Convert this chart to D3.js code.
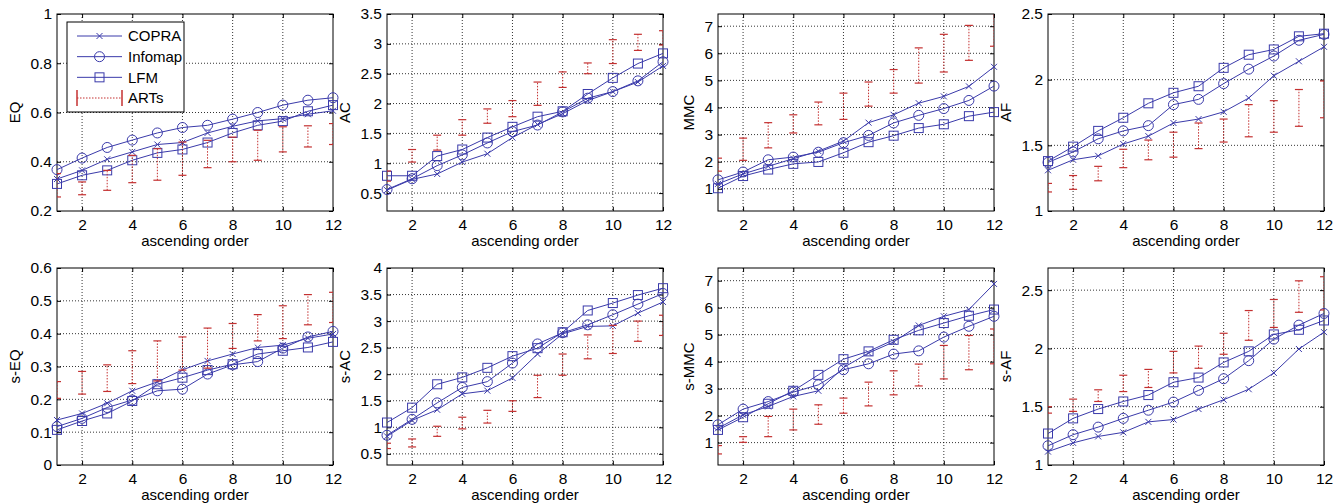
<!DOCTYPE html>
<html>
<head>
<meta charset="utf-8">
<script src="https://cdn.jsdelivr.net/npm/d3@7"></script>
<style>
  body { margin: 0; background: #fff; }
  text { font-family: Arial, "Liberation Sans", Helvetica, sans-serif; }
</style>
</head>
<body>
<svg id="chart" width="1341" height="504"></svg>
<script>
// DATA
const order = [1, 2, 3, 4, 5, 6, 7, 8, 9, 10, 11, 12];
const xTicks = [2, 4, 6, 8, 10, 12];

// EQ
const eqCopra = [0.33, 0.365, 0.41, 0.44, 0.47, 0.478, 0.517, 0.544, 0.566, 0.575, 0.593, 0.607];
const eqInfomap = [0.368, 0.415, 0.458, 0.488, 0.517, 0.539, 0.548, 0.573, 0.6, 0.63, 0.65, 0.66];
const eqLfm = [0.31, 0.345, 0.365, 0.406, 0.436, 0.45, 0.478, 0.517, 0.548, 0.565, 0.605, 0.63];
const eqArtsLow = [0.257, 0.266, 0.284, 0.315, 0.325, 0.345, 0.376, 0.4, 0.406, 0.44, 0.46, 0.47];
const eqArtsHigh = [0.352, 0.318, 0.365, 0.426, 0.453, 0.48, 0.487, 0.5, 0.528, 0.542, 0.546, 0.555];
const eqTicks = [0.2, 0.4, 0.6, 0.8, 1];

// AC
const acCopra = [0.55, 0.73, 0.82, 1.02, 1.16, 1.43, 1.65, 1.83, 2.05, 2.2, 2.36, 2.63];
const acInfomap = [0.56, 0.74, 0.96, 1.14, 1.34, 1.53, 1.64, 1.86, 2.09, 2.2, 2.38, 2.7];
const acLfm = [0.79, 0.79, 1.12, 1.23, 1.43, 1.61, 1.78, 1.87, 2.16, 2.43, 2.67, 2.84];
const acArtsLow = [0.7, 1.02, 1.22, 1.47, 1.67, 1.78, 1.97, 2.27, 2.5, 2.67, 2.89, 2.98];
const acArtsHigh = [0.87, 1.23, 1.47, 1.73, 1.91, 2.05, 2.36, 2.53, 2.68, 3.07, 3.16, 3.22];
const acTicks = [0.5, 1, 1.5, 2, 2.5, 3, 3.5];

// MMC
const mmcCopra = [1.18, 1.55, 1.83, 2.11, 2.39, 2.76, 3.44, 3.73, 4.16, 4.41, 4.78, 5.5];
const mmcInfomap = [1.33, 1.62, 2.07, 2.17, 2.35, 2.7, 2.97, 3.43, 3.71, 3.96, 4.26, 4.79];
const mmcLfm = [1.02, 1.47, 1.71, 1.92, 1.99, 2.33, 2.72, 2.96, 3.24, 3.38, 3.68, 3.83];
const mmcArtsLow = [1.65, 2.05, 2.51, 3.06, 3.36, 3.56, 4.05, 4.53, 4.9, 5.31, 5.74, 6.26];
const mmcArtsHigh = [2.13, 2.87, 3.44, 3.73, 4.2, 4.53, 4.94, 5.4, 6.2, 6.7, 7.03, 7.6];
const mmcTicks = [1, 2, 3, 4, 5, 6, 7];

// AF
const afCopra = [1.31, 1.39, 1.42, 1.51, 1.57, 1.67, 1.7, 1.755, 1.86, 2.03, 2.14, 2.25];
const afInfomap = [1.37, 1.45, 1.55, 1.61, 1.65, 1.81, 1.85, 1.97, 2.08, 2.18, 2.3, 2.345];
const afLfm = [1.38, 1.49, 1.61, 1.71, 1.82, 1.9, 1.95, 2.09, 2.19, 2.23, 2.33, 2.35];
const afArtsLow = [1.145, 1.165, 1.23, 1.33, 1.39, 1.41, 1.475, 1.525, 1.565, 1.6, 1.645, 1.71];
const afArtsHigh = [1.21, 1.27, 1.34, 1.47, 1.54, 1.6, 1.67, 1.7, 1.81, 1.84, 1.925, 1.99];
const afTicks = [1, 1.5, 2, 2.5];

// s-EQ
const sEqCopra = [0.137, 0.157, 0.188, 0.226, 0.253, 0.29, 0.317, 0.338, 0.358, 0.365, 0.386, 0.399];
const sEqInfomap = [0.117, 0.142, 0.175, 0.198, 0.226, 0.231, 0.277, 0.305, 0.315, 0.356, 0.39, 0.407];
const sEqLfm = [0.107, 0.134, 0.157, 0.195, 0.246, 0.266, 0.289, 0.307, 0.338, 0.348, 0.358, 0.375];
const sEqArtsLow = [0.203, 0.216, 0.224, 0.248, 0.256, 0.289, 0.295, 0.355, 0.378, 0.385, 0.427, 0.434];
const sEqArtsHigh = [0.254, 0.285, 0.305, 0.348, 0.378, 0.39, 0.417, 0.431, 0.458, 0.485, 0.519, 0.526];
const sEqTicks = [0, 0.1, 0.2, 0.3, 0.4, 0.5, 0.6];

// s-AC
const sAcCopra = [0.83, 1.13, 1.33, 1.63, 1.69, 1.93, 2.38, 2.76, 2.9, 2.91, 3.15, 3.36];
const sAcInfomap = [0.85, 1.15, 1.46, 1.75, 1.86, 2.21, 2.57, 2.78, 2.93, 3.12, 3.32, 3.52];
const sAcLfm = [1.09, 1.37, 1.81, 1.94, 2.12, 2.34, 2.49, 2.79, 3.2, 3.34, 3.49, 3.62];
const sAcArtsLow = [0.6, 0.63, 0.83, 0.97, 1.08, 1.3, 1.56, 1.98, 2.29, 2.39, 2.62, 2.73];
const sAcArtsHigh = [0.7, 0.78, 1.02, 1.19, 1.32, 1.5, 1.98, 2.38, 2.74, 2.92, 3.0, 3.11];
const sAcTicks = [0.5, 1, 1.5, 2, 2.5, 3, 3.5, 4];

// s-MMC
const sMmcCopra = [1.53, 2.03, 2.34, 2.71, 2.92, 3.78, 4.32, 4.73, 5.34, 5.68, 5.93, 6.88];
const sMmcInfomap = [1.66, 2.24, 2.52, 2.87, 3.14, 3.7, 3.92, 4.28, 4.4, 4.91, 5.31, 5.68];
const sMmcLfm = [1.47, 1.94, 2.44, 2.92, 3.51, 4.09, 4.38, 4.81, 5.16, 5.43, 5.7, 5.93];
const sMmcArtsLow = [0.58, 1.01, 1.22, 1.47, 1.68, 2.09, 2.36, 2.77, 3.1, 3.36, 3.7, 3.92];
const sMmcArtsHigh = [0.89, 1.22, 1.97, 2.24, 2.4, 2.65, 3.24, 3.66, 3.91, 4.6, 4.97, 5.21];
const sMmcTicks = [1, 2, 3, 4, 5, 6, 7];

// s-AF
const sAfCopra = [1.115, 1.19, 1.245, 1.28, 1.37, 1.39, 1.48, 1.56, 1.65, 1.79, 1.995, 2.14];
const sAfInfomap = [1.165, 1.26, 1.325, 1.4, 1.47, 1.54, 1.64, 1.74, 1.895, 2.08, 2.2, 2.3];
const sAfLfm = [1.27, 1.4, 1.48, 1.545, 1.6, 1.71, 1.75, 1.88, 1.975, 2.12, 2.16, 2.24];
const sAfArtsLow = [1.445, 1.46, 1.545, 1.63, 1.665, 1.79, 1.83, 1.95, 2.07, 2.18, 2.31, 2.33];
const sAfArtsHigh = [1.5, 1.565, 1.645, 1.77, 1.82, 1.975, 2.02, 2.13, 2.325, 2.42, 2.58, 2.615];
const sAfTicks = [1, 1.5, 2, 2.5];

const seriesNames = ['COPRA', 'Infomap', 'LFM', 'ARTs'];

const panels = [
  { label: 'EQ', copra: eqCopra, infomap: eqInfomap, lfm: eqLfm, lo: eqArtsLow, hi: eqArtsHigh, ticks: eqTicks, domain: [0.2, 1], legend: true },
  { label: 'AC', copra: acCopra, infomap: acInfomap, lfm: acLfm, lo: acArtsLow, hi: acArtsHigh, ticks: acTicks, domain: [0.2, 3.5] },
  { label: 'MMC', copra: mmcCopra, infomap: mmcInfomap, lfm: mmcLfm, lo: mmcArtsLow, hi: mmcArtsHigh, ticks: mmcTicks, domain: [0.18, 7.45] },
  { label: 'AF', copra: afCopra, infomap: afInfomap, lfm: afLfm, lo: afArtsLow, hi: afArtsHigh, ticks: afTicks, domain: [1, 2.5] },
  { label: 's-EQ', copra: sEqCopra, infomap: sEqInfomap, lfm: sEqLfm, lo: sEqArtsLow, hi: sEqArtsHigh, ticks: sEqTicks, domain: [0, 0.6] },
  { label: 's-AC', copra: sAcCopra, infomap: sAcInfomap, lfm: sAcLfm, lo: sAcArtsLow, hi: sAcArtsHigh, ticks: sAcTicks, domain: [0.29, 4] },
  { label: 's-MMC', copra: sMmcCopra, infomap: sMmcInfomap, lfm: sMmcLfm, lo: sMmcArtsLow, hi: sMmcArtsHigh, ticks: sMmcTicks, domain: [0.17, 7.47] },
  { label: 's-AF', copra: sAfCopra, infomap: sAfInfomap, lfm: sAfLfm, lo: sAfArtsLow, hi: sAfArtsHigh, ticks: sAfTicks, domain: [1, 2.69] },
];

//SETUP
const svg = d3.select('#chart');
const colLeft = [57, 387, 718, 1048];
const rowTop = [14, 268];
const w = 276;
const h = 197;
const blue = '#3a3aaa';
const red = '#c43030';

function drawMarker(sel, kind) {
  if (kind === 'copra') {
    sel.append('path').attr('d', 'M-3,-3L3,3M-3,3L3,-3');
  } else if (kind === 'infomap') {
    sel.append('circle').attr('r', 5);
  } else {
    sel.append('rect').attr('x', -4.5).attr('y', -4.5).attr('width', 9).attr('height', 9);
  }
}

panels.forEach((p, i) => {
  const left = colLeft[i % 4];
  const top = rowTop[Math.floor(i / 4)];
  const g = svg.append('g').attr('transform', `translate(${left},${top})`);

  //SCALE
  const xScale = d3.scaleLinear().domain([1, 12]).range([0, w]);
  const yScale = d3.scaleLinear().domain(p.domain).range([h, 0]);

  //GRID
  g.append('g')
    .selectAll('line')
    .data(xTicks.filter((t) => t < 12))
    .join('line')
    .attr('x1', (d) => xScale(d))
    .attr('x2', (d) => xScale(d))
    .attr('y1', 0)
    .attr('y2', h)
    .attr('stroke', '#000')
    .attr('stroke-width', 0.8)
    .attr('stroke-dasharray', '1,2');

  g.append('g')
    .selectAll('line')
    .data(p.ticks.filter((t) => t > p.domain[0] && t < p.domain[1]))
    .join('line')
    .attr('x1', 0)
    .attr('x2', w)
    .attr('y1', (d) => yScale(d))
    .attr('y2', (d) => yScale(d))
    .attr('stroke', '#000')
    .attr('stroke-width', 0.8)
    .attr('stroke-dasharray', '1,2');

  //AXIS
  g.append('g')
    .attr('transform', `translate(0,${h})`)
    .call(d3.axisBottom(xScale).tickValues(xTicks).tickSizeInner(-4).tickSizeOuter(0).tickPadding(8));
  const yAxis = g.append('g')
    .call(d3.axisLeft(yScale).tickValues(p.ticks).tickFormat(d3.format('')).tickSizeInner(-4).tickSizeOuter(0).tickPadding(5));
  g.append('g')
    .call(d3.axisTop(xScale).tickValues(xTicks).tickFormat('').tickSizeInner(-4).tickSizeOuter(0));
  g.append('g')
    .attr('transform', `translate(${w},0)`)
    .call(d3.axisRight(yScale).tickValues(p.ticks).tickFormat('').tickSizeInner(-4).tickSizeOuter(0));

  g.selectAll('.domain').remove();
  g.selectAll('.tick text').style('font-size', '15.5px').attr('fill', '#000');
  g.selectAll('.tick line').attr('stroke', '#000');

  g.append('rect')
    .attr('width', w)
    .attr('height', h)
    .attr('fill', 'none')
    .attr('stroke', '#000')
    .attr('stroke-width', 1);

  //LABELS
  const bb = yAxis.node().getBBox();
  g.append('text')
    .attr('transform', `translate(${bb.x - 10},${h / 2}) rotate(-90)`)
    .attr('text-anchor', 'middle')
    .style('font-size', '15px')
    .text(p.label);

  g.append('text')
    .attr('x', w / 2)
    .attr('y', h + 35)
    .attr('text-anchor', 'middle')
    .style('font-size', '15px')
    .text('ascending order');

  //SERIES
  const line = d3.line()
    .x((d) => xScale(d[0]))
    .y((d) => yScale(d[1]));

  ['copra', 'infomap', 'lfm'].forEach((kind) => {
    const pts = order.map((o, k) => [o, p[kind][k]]);
    g.append('path')
      .attr('d', line(pts))
      .attr('fill', 'none')
      .attr('stroke', blue)
      .attr('stroke-width', 1);
    g.append('g')
      .selectAll('g')
      .data(pts)
      .join('g')
      .attr('transform', (d) => `translate(${xScale(d[0])},${yScale(d[1])})`)
      .attr('fill', 'none')
      .attr('stroke', blue)
      .attr('stroke-width', 1)
      .each(function () { drawMarker(d3.select(this), kind); });
  });

  //ERROR BARS
  const clipId = `clip-${i}`;
  g.append('clipPath').attr('id', clipId)
    .append('rect').attr('width', w).attr('height', h);

  const bars = g.append('g')
    .attr('clip-path', `url(#${clipId})`)
    .selectAll('g')
    .data(order.map((o, k) => ({ x: o, lo: p.lo[k], hi: p.hi[k] })))
    .join('g')
    .attr('stroke', red);

  bars.append('line')
    .attr('x1', (d) => xScale(d.x))
    .attr('x2', (d) => xScale(d.x))
    .attr('y1', (d) => yScale(d.lo))
    .attr('y2', (d) => yScale(d.hi))
    .attr('stroke-width', 1)
    .attr('stroke-dasharray', '1.5,1.5');

  ['lo', 'hi'].forEach((key) => {
    bars.append('line')
      .attr('x1', (d) => xScale(d.x) - 4)
      .attr('x2', (d) => xScale(d.x) + 4)
      .attr('y1', (d) => yScale(d[key]))
      .attr('y2', (d) => yScale(d[key]))
      .attr('stroke-width', 1.2);
  });

  //LEGEND
  if (p.legend) {
    const lg = g.append('g').attr('transform', 'translate(10,8)');
    lg.append('rect')
      .attr('width', 117)
      .attr('height', 90)
      .attr('fill', '#fff')
      .attr('stroke', '#000')
      .attr('stroke-width', 1);

    const kinds = ['copra', 'infomap', 'lfm', 'arts'];
    const rowY = d3.scalePoint().domain(kinds).range([14, 76]);

    kinds.forEach((kind, k) => {
      const ly = rowY(kind);
      if (kind === 'arts') {
        lg.append('line')
          .attr('x1', 10).attr('x2', 55).attr('y1', ly).attr('y2', ly)
          .attr('stroke', red).attr('stroke-dasharray', '1.5,1.5');
        [10, 55].forEach((cx) => {
          lg.append('line')
            .attr('x1', cx).attr('x2', cx).attr('y1', ly - 8).attr('y2', ly + 8)
            .attr('stroke', red).attr('stroke-width', 1.5);
        });
      } else {
        lg.append('line')
          .attr('x1', 10).attr('x2', 55).attr('y1', ly).attr('y2', ly)
          .attr('stroke', blue);
        const m = lg.append('g')
          .attr('transform', `translate(32.5,${ly})`)
          .attr('fill', 'none')
          .attr('stroke', blue);
        drawMarker(m, kind);
      }
      lg.append('text')
        .attr('x', 61)
        .attr('y', ly)
        .attr('dy', '0.36em')
        .style('font-size', '15px')
        .text(seriesNames[k]);
    });
  }
});
</script>
</body>
</html>
